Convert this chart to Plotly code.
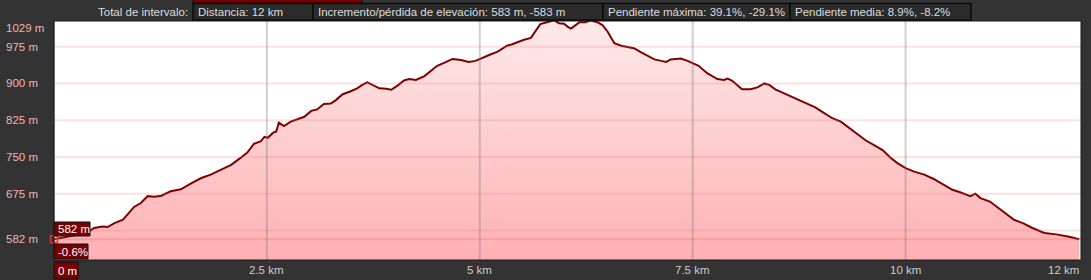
import plotly.graph_objects as go

# ---------------- data ----------------
dist_km = [0.00, 0.12, 0.24, 0.39, 0.47, 0.57, 0.63, 0.71, 0.81, 0.86, 0.94, 1.02, 1.10, 1.18,
           1.26, 1.37, 1.49, 1.61, 1.73, 1.84, 1.96, 2.08, 2.19, 2.27, 2.35, 2.43, 2.47, 2.51,
           2.57, 2.61, 2.64, 2.70, 2.78, 2.86, 2.94, 3.02, 3.09, 3.17, 3.25, 3.31, 3.39, 3.47,
           3.56, 3.62, 3.68, 3.74, 3.82, 3.90, 3.96, 4.03, 4.11, 4.17, 4.25, 4.35, 4.42, 4.50,
           4.58, 4.68, 4.78, 4.87, 4.95, 5.01, 5.11, 5.21, 5.32, 5.38, 5.44, 5.52, 5.60, 5.66,
           5.71, 5.79, 5.87, 5.93, 5.99, 6.03, 6.07, 6.11, 6.17, 6.24, 6.30, 6.38, 6.44, 6.50,
           6.58, 6.66, 6.74, 6.81, 6.89, 6.97, 7.05, 7.13, 7.19, 7.24, 7.36, 7.44, 7.50, 7.57,
           7.67, 7.79, 7.87, 7.91, 7.96, 8.08, 8.18, 8.26, 8.34, 8.40, 8.47, 8.57, 8.65, 8.75,
           8.84, 8.94, 9.04, 9.14, 9.24, 9.33, 9.43, 9.53, 9.63, 9.73, 9.82, 9.90, 10.00, 10.10,
           10.22, 10.33, 10.45, 10.55, 10.64, 10.76, 10.82, 10.88, 10.99, 11.09, 11.19, 11.27,
           11.39, 11.49, 11.63, 11.77, 11.92, 12.04]
elev_m = [582, 586, 589, 595, 605, 608, 607, 615, 622, 632, 648, 656, 670, 669,
          671, 680, 684, 696, 707, 714, 724, 734, 748, 759, 777, 782, 791, 789,
          799, 802, 820, 813, 822, 827, 832, 844, 847, 858, 859, 866, 878, 883,
          890, 897, 902, 897, 890, 889, 887, 895, 906, 909, 907, 915, 924, 936,
          942, 950, 948, 944, 946, 950, 958, 965, 977, 980, 984, 989, 993, 1009,
          1021, 1025, 1029, 1023, 1022, 1016, 1012, 1017, 1025, 1025, 1029, 1025, 1019, 1006,
          982, 977, 974, 972, 964, 957, 949, 946, 944, 949, 951, 946, 941, 936,
          921, 909, 907, 910, 906, 888, 888, 892, 900, 897, 888, 880, 874, 866,
          858, 851, 840, 829, 822, 810, 798, 784, 774, 764, 749, 738, 727, 720,
          714, 705, 693, 683, 678, 670, 675, 666, 659, 646, 632, 622,
          614, 605, 595, 592, 587, 582]

y_grid_m = [975, 900, 825, 750, 675, 600]
y_tick_m = [975, 900, 825, 750, 675, 582]
y_tick_labels = ["975 m", "900 m", "825 m", "750 m", "675 m", "582 m"]
y_max_label = "1029 m"
x_grid_km = [2.5, 5, 7.5, 10]
x_tick_labels = ["2.5 km", "5 km", "7.5 km", "10 km"]
x_end_label = "12 km"
x_start_label = "0 m"
cursor_elev_m = 582
cursor_elev_label = "582 m"
cursor_slope_label = "-0.6%"
header_title = "Total de intervalo:"
header_items = ["Distancia: 12 km",
                "Incremento/pérdida de elevación: 583 m, -583 m",
                "Pendiente máxima: 39.1%, -29.1%",
                "Pendiente media: 8.9%, -8.2%"]

# ---------------- layout helpers ----------------
W, H = 1091, 280
ML, MR, MT, MB = 54, 10, 21, 20
PW, PH = W - ML - MR, H - MT - MB
X_RANGE = [0, 12.06]
Y_RANGE = [539.7, 1027.4]
FONT = "Liberation Sans, Arial, sans-serif"
BG = "#333333"


def px_x(px):
    return (px - ML) / PW


def px_y(py):
    return (H - MB - py) / PH


fig = go.Figure()

fig.add_trace(go.Scatter(
    x=dist_km, y=elev_m, mode="lines", fill="tozeroy",
    line=dict(color="#800000", width=2),
    fillgradient=dict(type="vertical", start=Y_RANGE[0], stop=1029,
                      colorscale=[[0, "#ffb0b4"], [1, "#fdeaea"]]),
    hoverinfo="skip", showlegend=False,
))

# cursor marker
fig.add_trace(go.Scatter(
    x=[dist_km[0]], y=[cursor_elev_m], mode="markers",
    marker=dict(symbol="square-open", size=7, color="#e03030", line=dict(width=1.5)),
    hoverinfo="skip", showlegend=False, cliponaxis=False,
))

shapes = []
for v in y_grid_m:
    shapes.append(dict(type="line", xref="paper", yref="y", x0=0, x1=1, y0=v, y1=v,
                       line=dict(color="rgba(240,110,110,0.2)", width=2), layer="above"))
shapes.append(dict(type="line", xref="paper", yref="y", x0=0, x1=1,
                   y0=cursor_elev_m, y1=cursor_elev_m,
                   line=dict(color="rgba(250,100,100,0.3)", width=2), layer="above"))
for v in x_grid_km:
    shapes.append(dict(type="line", xref="x", yref="paper", x0=v, x1=v, y0=0, y1=1,
                       line=dict(color="rgba(120,120,120,0.35)", width=2), layer="above"))
shapes.append(dict(type="line", xref="x", yref="paper", x0=0, x1=0, y0=0, y1=1,
                   line=dict(color="rgba(110,110,110,0.5)", width=2), layer="above"))
shapes.append(dict(type="rect", xref="paper", yref="paper", x0=0, x1=1, y0=0, y1=1,
                   line=dict(color="#1a1a1a", width=1), layer="above"))

box_px = [(193, 313), (313, 603), (603, 790), (790, 971)]
for (a, b) in box_px:
    shapes.append(dict(type="rect", xref="paper", yref="paper",
                       x0=px_x(a), x1=px_x(b), y0=px_y(20), y1=px_y(3.5),
                       fillcolor="#2b2b2b", line=dict(color="#0d0d0d", width=1.5),
                       layer="above"))
shapes.append(dict(type="rect", xref="paper", yref="paper",
                   x0=px_x(193), x1=px_x(362), y0=px_y(3), y1=px_y(-2),
                   fillcolor="#7a0000", line=dict(color="#0d0d0d", width=1), layer="above"))

label_boxes = [((54, 90), (222, 236)), ((54, 88), (244, 259)), ((54, 78), (262, 279))]
for (xa, xb), (ya, yb) in label_boxes:
    shapes.append(dict(type="rect", xref="paper", yref="paper",
                       x0=px_x(xa), x1=px_x(xb), y0=px_y(yb), y1=px_y(ya),
                       fillcolor="#7a0000", line=dict(color="#111111", width=1),
                       layer="above"))

annotations = []
for v, t in zip(y_tick_m, y_tick_labels):
    annotations.append(dict(x=px_x(4), y=v, xref="paper", yref="y", text=t,
                            showarrow=False, xanchor="left", yanchor="middle",
                            font=dict(family=FONT, size=11.5, color="#f0b4b4")))
annotations.append(dict(x=px_x(4), y=px_y(28), xref="paper", yref="paper", text=y_max_label,
                        showarrow=False, xanchor="left", yanchor="middle",
                        font=dict(family=FONT, size=11.5, color="#f0b4b4")))
for v, t in zip(x_grid_km, x_tick_labels):
    annotations.append(dict(x=v, y=px_y(270), xref="x", yref="paper", text=t,
                            showarrow=False, xanchor="center", yanchor="middle",
                            font=dict(family=FONT, size=11.5, color="#cccccc")))
annotations.append(dict(x=px_x(1081), y=px_y(270), xref="paper", yref="paper", text=x_end_label,
                        showarrow=False, xanchor="right", yanchor="middle",
                        font=dict(family=FONT, size=11.5, color="#cccccc")))
for (txt, (xa, ya, yb)) in zip([cursor_elev_label, cursor_slope_label, x_start_label],
                               [(56, 222, 236), (56, 244, 259), (56, 262, 279)]):
    annotations.append(dict(x=px_x(xa), y=px_y((ya + yb) / 2), xref="paper", yref="paper",
                            text=txt, showarrow=False, xanchor="left", yanchor="middle",
                            font=dict(family=FONT, size=11.5, color="#ffffff")))
annotations.append(dict(x=px_x(190), y=px_y(12), xref="paper", yref="paper", text=header_title,
                        showarrow=False, xanchor="right", yanchor="middle",
                        font=dict(family=FONT, size=11.5, color="#dddddd")))
for (a, b), t in zip(box_px, header_items):
    annotations.append(dict(x=px_x(a + 3), y=px_y(12), xref="paper", yref="paper", text=t,
                            showarrow=False, xanchor="left", yanchor="middle",
                            font=dict(family=FONT, size=11.5, color="#dddddd")))

fig.update_layout(
    width=W, height=H,
    margin=dict(l=ML, r=MR, t=MT, b=MB, pad=0),
    paper_bgcolor=BG, plot_bgcolor="#ffffff",
    xaxis=dict(range=X_RANGE, showgrid=False, zeroline=False, showticklabels=False,
               ticks="", fixedrange=True),
    yaxis=dict(range=Y_RANGE, showgrid=False, zeroline=False, showticklabels=False,
               ticks="", fixedrange=True),
    shapes=shapes, annotations=annotations, showlegend=False,
)

fig.write_html("out.html")
